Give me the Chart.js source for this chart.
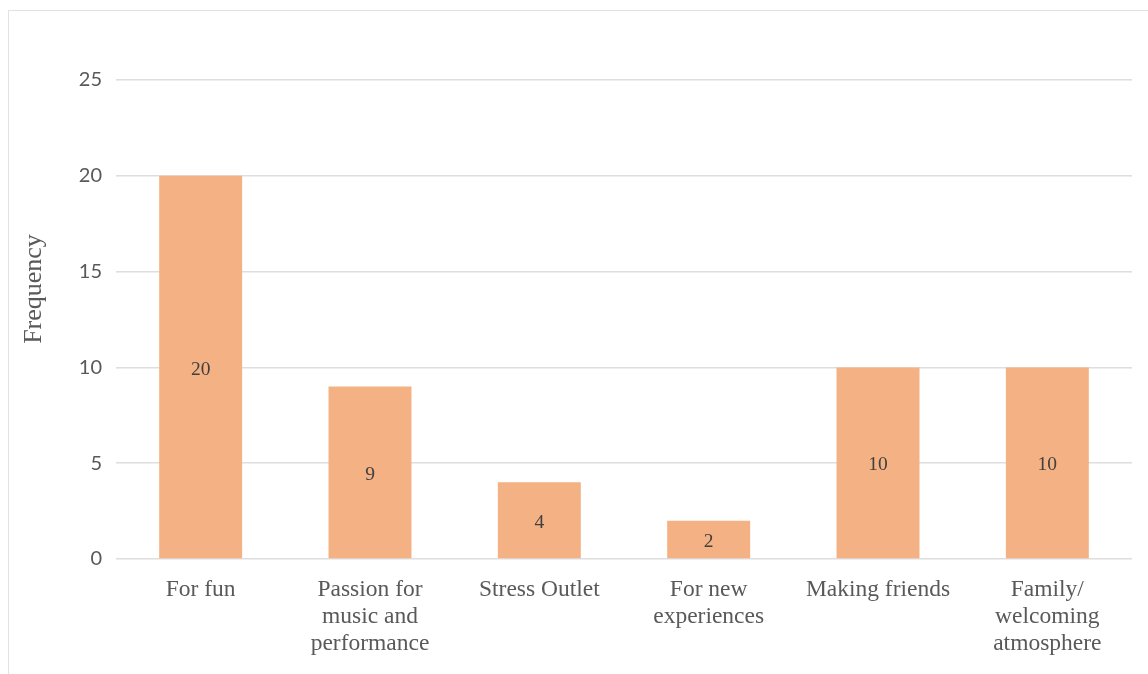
<!DOCTYPE html>
<html>
<head>
<meta charset="utf-8">
<script src="https://cdn.jsdelivr.net/npm/chart.js@4.4.1/dist/chart.umd.min.js"></script>
<style>
  html, body { margin: 0; padding: 0; background: #ffffff; }
  #wrap { position: relative; width: 1148px; height: 674px; overflow: hidden; }
  #frame { position: absolute; left: 8px; top: 10px; width: 1200px; height: 700px;
           border-top: 1.5px solid #e2e2e2; border-left: 1.5px solid #e2e2e2; box-sizing: border-box; }
  canvas { position: absolute; left: 0; top: 0; }
</style>
</head>
<body>
<div id="wrap">
  <div id="frame"></div>
  <canvas id="c" width="1148" height="674"></canvas>
</div>
<script>
const categories = [
  "For fun",
  ["Passion for", "music and", "performance"],
  "Stress Outlet",
  ["For new", "experiences"],
  "Making friends",
  ["Family/", "welcoming", "atmosphere"]
];
const frequency = [20, 9, 4, 2, 10, 10];
const yTicks = [0, 5, 10, 15, 20, 25];
const yTitle = 'Frequency';

const valueLabels = {
  id: 'valueLabels',
  afterDatasetsDraw(chart) {
    const ctx = chart.ctx;
    const meta = chart.getDatasetMeta(0);
    ctx.save();
    ctx.font = '19.5px "Liberation Serif", "Times New Roman", serif';
    ctx.fillStyle = '#404040';
    ctx.textAlign = 'center';
    ctx.textBaseline = 'middle';
    meta.data.forEach((bar, i) => {
      const p = bar.getProps(['x', 'y', 'base'], true);
      ctx.fillText(String(chart.data.datasets[0].data[i]), p.x, (p.y + p.base) / 2 + 2.5);
    });
    ctx.restore();
  }
};

const axisTitle = {
  id: 'axisTitle',
  afterDraw(chart) {
    const ctx = chart.ctx;
    ctx.save();
    ctx.translate(34, 289);
    ctx.rotate(-Math.PI / 2);
    ctx.font = '26px "Liberation Serif", "Times New Roman", serif';
    ctx.fillStyle = '#595959';
    ctx.textAlign = 'center';
    ctx.textBaseline = 'middle';
    ctx.fillText(yTitle, 0, 0);
    ctx.restore();
  }
};

new Chart(document.getElementById('c'), {
  type: 'bar',
  data: {
    labels: categories,
    datasets: [{
      label: 'Frequency',
      data: frequency,
      backgroundColor: '#F4B183',
      borderWidth: 0,
      barPercentage: 0.49,
      categoryPercentage: 1.0
    }]
  },
  options: {
    responsive: false,
    animation: false,
    events: [],
    layout: { padding: { top: 80, right: 16, bottom: 0, left: 0 } },
    plugins: {
      legend: { display: false },
      tooltip: { enabled: false }
    },
    scales: {
      x: {
        grid: { display: false, drawTicks: false },
        border: { display: false },
        ticks: {
          color: '#595959',
          padding: 17,
          maxRotation: 0,
          autoSkip: false,
          font: { family: '"Liberation Serif", "Times New Roman", serif', size: 23.5, lineHeight: 1.15 }
        },
        afterFit(scale) { scale.height = 115; }
      },
      y: {
        min: 0,
        max: 25,
        afterBuildTicks(scale) { scale.ticks = yTicks.map(v => ({ value: v })); },
        grid: { color: '#dedede', lineWidth: 1.6, drawTicks: false },
        border: { display: false },
        ticks: {
          color: '#595959',
          padding: 14,
          font: { family: 'Lato, "Open Sans", sans-serif', size: 20 }
        },
        title: { display: false },
        afterFit(scale) { scale.width = 116; }
      }
    }
  },
  plugins: [valueLabels, axisTitle]
});
</script>
</body>
</html>
